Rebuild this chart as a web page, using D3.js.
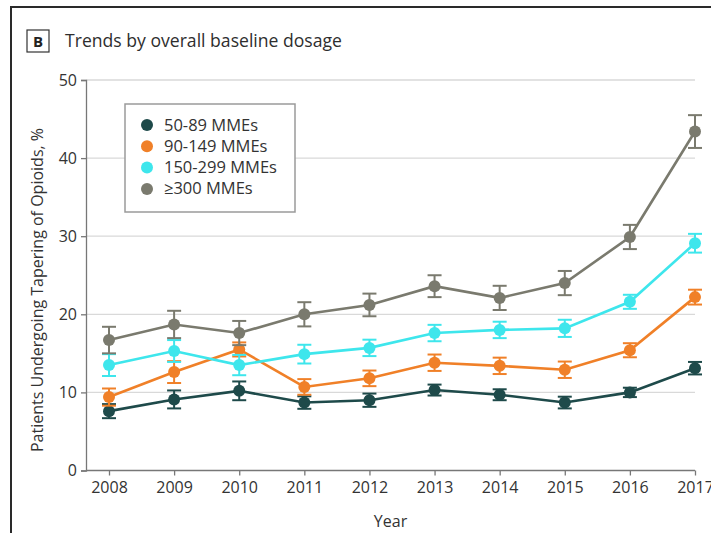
<!DOCTYPE html>
<html>
<head>
<meta charset="utf-8">
<script src="https://cdn.jsdelivr.net/npm/d3@7"></script>
<style>
  html, body { margin: 0; padding: 0; background: #fff; }
  svg { display: block; }
  text { font-family: "Open Sans", "Noto Sans", sans-serif; fill: #333; }
</style>
</head>
<body>
<script>
// Tapering trends by baseline dose group, 2008-2017
const years = [2008, 2009, 2010, 2011, 2012, 2013, 2014, 2015, 2016, 2017];
const seriesNames = ["50-89 MMEs", "90-149 MMEs", "150-299 MMEs", "\u2265300 MMEs"];
const seriesColors = ["#1e4a4a", "#f08028", "#3ee6ec", "#7a7a6e"];

const dose50to89   = [7.6, 9.1, 10.2, 8.7, 9.0, 10.3, 9.7, 8.7, 10.0, 13.1];
const dose90to149  = [9.4, 12.6, 15.5, 10.7, 11.8, 13.8, 13.4, 12.9, 15.4, 22.2];
const dose150to299 = [13.5, 15.3, 13.5, 14.9, 15.7, 17.6, 18.0, 18.2, 21.6, 29.1];
const dose300plus  = [16.7, 18.7, 17.6, 20.0, 21.2, 23.6, 22.1, 24.0, 29.9, 43.4];

// half-widths of the 95% CI bars
const ci50to89   = [0.9, 1.15, 1.2, 0.8, 0.85, 0.7, 0.7, 0.75, 0.6, 0.8];
const ci90to149  = [1.1, 1.4, 0.9, 1.0, 1.0, 1.05, 1.05, 1.05, 0.9, 0.95];
const ci150to299 = [1.4, 1.4, 1.3, 1.2, 1.05, 1.05, 1.05, 1.1, 0.9, 1.2];
const ci300plus  = [1.7, 1.75, 1.55, 1.55, 1.45, 1.4, 1.55, 1.55, 1.55, 2.1];

const yTicks = [0, 10, 20, 30, 40, 50];

const values = [dose50to89, dose90to149, dose150to299, dose300plus];
const cis = [ci50to89, ci90to149, ci150to299, ci300plus];

const W = 711, H = 533;
const svg = d3.select("body").append("svg").attr("width", W).attr("height", H);

// panel frame (top and left rules)
svg.append("path")
  .attr("d", `M11,${H} L11,7 L${W},7`)
  .attr("fill", "none").attr("stroke", "#2a2a2a").attr("stroke-width", 2);

// panel letter box and title
svg.append("rect").attr("x", 27).attr("y", 30).attr("width", 22).attr("height", 22)
  .attr("fill", "#fff").attr("stroke", "#333").attr("stroke-width", 1.2);
svg.append("text").attr("x", 38).attr("y", 47).attr("text-anchor", "middle")
  .style("font-size", "15px").style("font-weight", "700").style("fill", "#222").text("B");
svg.append("text").attr("x", 65).attr("y", 47)
  .style("font-size", "17.6px").style("fill", "#2e2e2e").text("Trends by overall baseline dosage");

const x = d3.scalePoint().domain(years).range([109, 695]);
const y = d3.scaleLinear().domain([0, 50]).range([470.5, 80]);
const plotLeft = 86;

// horizontal gridlines
svg.append("g").selectAll("line").data(yTicks.filter(t => t > 0)).join("line")
  .attr("x1", plotLeft).attr("x2", 695)
  .attr("y1", d => y(d)).attr("y2", d => y(d))
  .attr("stroke", "#d9d9d9").attr("stroke-width", 1.3);

// y axis
const yAxis = svg.append("g").attr("transform", `translate(${plotLeft},0)`)
  .call(d3.axisLeft(y).tickValues(yTicks).tickSize(5).tickPadding(4));
yAxis.select(".domain").attr("stroke", "#777").attr("stroke-width", 1.3);
yAxis.selectAll(".tick line").attr("stroke", "#777").attr("stroke-width", 1.3);
yAxis.selectAll("text").style("font-size", "16px").style("fill", "#333")
  .attr("font-family", null);

// x axis
const xAxis = svg.append("g").attr("transform", `translate(0,${y(0)})`)
  .call(d3.axisBottom(x).tickSize(5).tickPadding(6).tickSizeOuter(0));
xAxis.select(".domain").attr("d", `M${plotLeft},0H695`).attr("stroke", "#777").attr("stroke-width", 1.3);
xAxis.selectAll(".tick line").attr("stroke", "#777").attr("stroke-width", 1.3);
xAxis.selectAll("text").style("font-size", "16px").style("fill", "#333")
  .attr("font-family", null);

// axis titles
svg.append("text").attr("x", (plotLeft + 695) / 2).attr("y", 527).attr("text-anchor", "middle")
  .style("font-size", "16px").text("Year");
svg.append("text").attr("transform", `translate(43,290) rotate(-90)`).attr("text-anchor", "middle")
  .style("font-size", "16px").text("Patients Undergoing Tapering of Opioids, %");

// series: line, error bars, markers
const line = d3.line().x((d, i) => x(years[i])).y(d => y(d));
values.forEach((vals, s) => {
  const g = svg.append("g");
  const col = seriesColors[s];
  g.append("path").datum(vals).attr("d", line)
    .attr("fill", "none").attr("stroke", col).attr("stroke-width", 2.6);
  const pts = vals.map((v, i) => ({ yr: years[i], v, e: cis[s][i] }));
  const eb = g.selectAll("g.eb").data(pts).join("g");
  eb.append("line")
    .attr("x1", d => x(d.yr)).attr("x2", d => x(d.yr))
    .attr("y1", d => y(d.v + d.e)).attr("y2", d => y(d.v - d.e))
    .attr("stroke", col).attr("stroke-width", 2);
  [1, -1].forEach(sign => {
    eb.append("line")
      .attr("x1", d => x(d.yr) - 7).attr("x2", d => x(d.yr) + 7)
      .attr("y1", d => y(d.v + sign * d.e)).attr("y2", d => y(d.v + sign * d.e))
      .attr("stroke", col).attr("stroke-width", 2);
  });
  g.selectAll("circle").data(pts).join("circle")
    .attr("cx", d => x(d.yr)).attr("cy", d => y(d.v)).attr("r", 6)
    .attr("fill", col);
});

// legend
const lg = svg.append("g");
lg.append("rect").attr("x", 125).attr("y", 104).attr("width", 170).attr("height", 108)
  .attr("fill", "#fff").attr("stroke", "#9a9a9a").attr("stroke-width", 1.5);
seriesNames.forEach((name, i) => {
  const cy = 125 + i * 21.3;
  lg.append("circle").attr("cx", 147).attr("cy", cy).attr("r", 6).attr("fill", seriesColors[i]);
  lg.append("text").attr("x", 164).attr("y", cy + 5.5).style("font-size", "16.5px").text(name);
});
</script>
</body>
</html>
